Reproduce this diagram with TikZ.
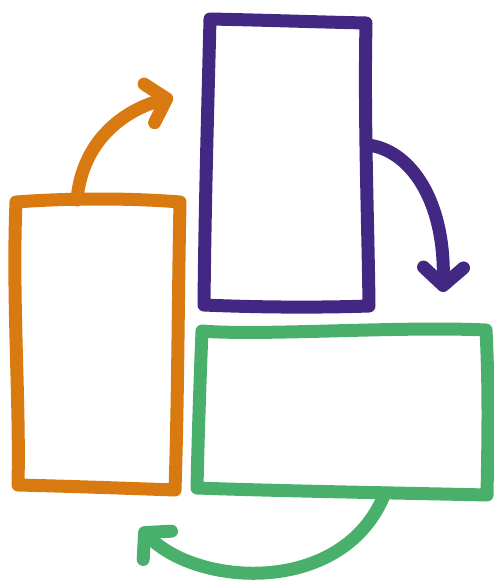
\documentclass[tikz,border=0pt]{standalone}
\usetikzlibrary{arrows.meta}
\definecolor{sketchorange}{RGB}{217,122,16}
\definecolor{sketchpurple}{RGB}{66,40,130}
\definecolor{sketchgreen}{RGB}{73,176,108}

\begin{document}
\begin{tikzpicture}[x=1pt, y=-1pt,
    pen/.style={line width=13pt, line cap=round, line join=round},
    flow/.style={pen, -{Straight Barb[round, length=18pt, width=40pt]}}]
  \useasboundingbox (0,0) rectangle (494,581);

  % Orange box (left)
  \coordinate (onw) at (16,202);
  \coordinate (one) at (180,202);
  \coordinate (ose) at (175,490);
  \coordinate (osw) at (18,485);
  \draw[pen, color=sketchorange]
    (onw) .. controls (70,198) and (130,198) .. (one)
          .. controls (178,300) and (178,400) .. (ose)
          .. controls (120,488) and (60,486) .. (osw)
          .. controls (20,400) and (12,300) .. cycle;

  % Purple box (top)
  \coordinate (pnw) at (210,19);
  \coordinate (pne) at (366,23);
  \coordinate (pse) at (369,306);
  \coordinate (psw) at (204,305);
  \draw[pen, color=sketchpurple]
    (pnw) .. controls (260,20) and (320,22) .. (pne)
          .. controls (364,120) and (368,220) .. (pse)
          .. controls (310,308) and (250,307) .. (psw)
          .. controls (205,200) and (208,100) .. cycle;

  % Green box (bottom right)
  \coordinate (gnw) at (202,331);
  \coordinate (gne) at (486,330);
  \coordinate (gse) at (487,495);
  \coordinate (gsw) at (197,488);
  \draw[pen, color=sketchgreen]
    (gnw) .. controls (260,336) and (400,326) .. (gne)
          .. controls (489,390) and (488,440) .. (gse)
          .. controls (400,493) and (280,491) .. (gsw)
          .. controls (198,440) and (200,380) .. cycle;

  % Arrows between the boxes
  \coordinate (oout) at (77,200);
  \coordinate (otip) at (173,97);
  \draw[flow, color=sketchorange] (oout) .. controls (82,140) and (125,110) .. (otip);

  \coordinate (pout) at (368,145);
  \coordinate (ptip) at (443,292);
  \draw[flow, color=sketchpurple] (pout) .. controls (410,150) and (445,200) .. (ptip);

  \coordinate (gout) at (385,493);
  \coordinate (gtip) at (140,528);
  \draw[flow, color=sketchgreen] (gout) .. controls (345,595) and (200,588) .. (gtip);
\end{tikzpicture}
\end{document}
